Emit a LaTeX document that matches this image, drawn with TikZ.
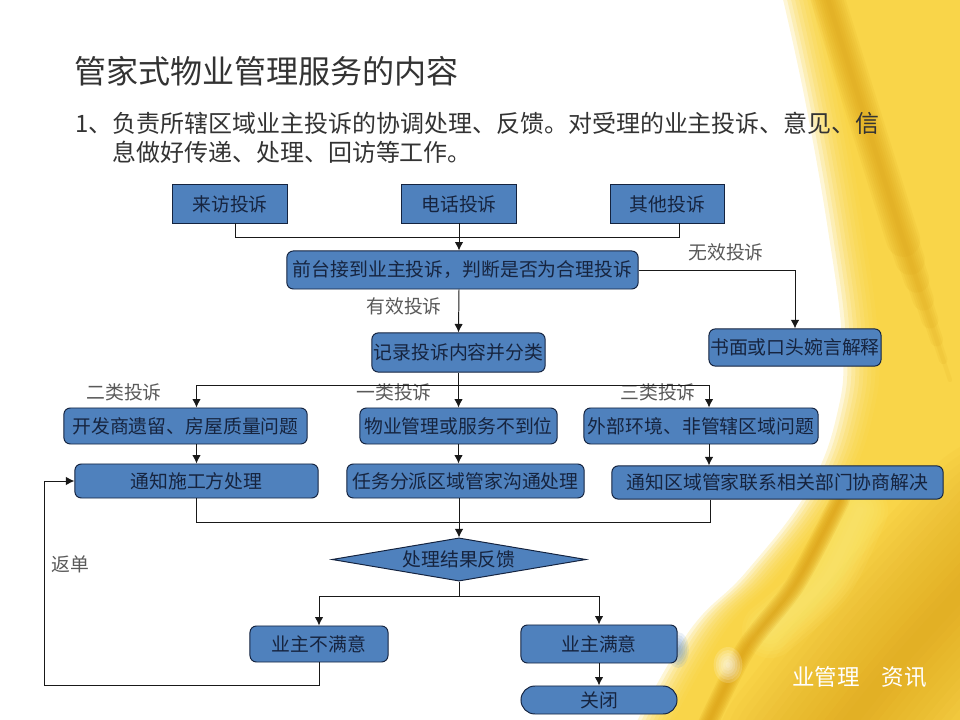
\documentclass[tikz,border=0pt]{standalone}
\usepackage{fontspec}
\setmainfont{Noto Sans CJK SC}
\usepackage{tikz}
\usetikzlibrary{arrows.meta,shapes.geometric,shapes.misc}
\definecolor{boxblue}{HTML}{4F81BD}
\definecolor{boxline}{HTML}{14233F}
\definecolor{boxtext}{HTML}{16243F}
\definecolor{gold}{HTML}{F8D033}
\definecolor{deepgold}{HTML}{D99C10}
\definecolor{palegold}{HTML}{FDEB78}
\newcommand{\edgepts}{(782,-5) (805,100) (828,230) (842,340) (838,410) (808,490) (746,572) (690,630) (635,725)}
\newcommand{\fs}{\fontsize{13.4}{16}\selectfont}

\begin{document}
\begin{tikzpicture}
    [
    x=0.025cm,y=-0.025cm,
    plainbox/.style = {draw=boxline,line width=0.7pt,fill=boxblue,text=boxtext,inner sep=0pt,font=\fs},
    softbox/.style = {plainbox,rounded corners=0.16cm},
    endbox/.style = {plainbox,rounded rectangle},
    choice/.style = {plainbox,diamond,aspect=5.9},
    tag/.style = {text=black!65,inner sep=0pt,font=\fs},
    link/.style = {draw=black!90,line width=0.7pt},
    flow/.style = {link,-{Latex[length=6pt,width=6pt]}},
    veil/.style = {fill=gold,opacity=0.2},
    markfont/.style = {inner sep=0pt,text=white,font=\fontsize{16}{18}\selectfont}
    ]
\useasboundingbox (0,0) rectangle (960,720);

% curtain behind everything
\begin{scope}
\clip (0,0) rectangle (960,720);
\foreach \s in {0,4,...,36} {
    \fill[veil,shift={(\s,0)}] plot [smooth,tension=0.7] coordinates {\edgepts} -- (980,740) -- (980,-5) -- cycle;
}
% darker folds
\foreach \w in {10,20,...,150} {
    \draw[deepgold,opacity=0.055,line width=\w pt,line cap=round] plot [smooth] coordinates {(1010,540) (900,660) (820,760)};
}
\foreach \w/\e in {3/380,6/360,9/340,12/320,15/300,18/280,21/260,24/240} {
    \draw[deepgold,opacity=0.1,line width=\w pt,line cap=round] (825,-10) -- (900,230) -- (900+\e/3-76.67,\e);
}
\foreach \w in {5,10,...,40} {
    \draw[palegold,opacity=0.12,line width=\w pt,line cap=round] plot [smooth] coordinates {(860,510) (825,580) (770,630)};
}
\foreach \w in {2,4,...,14} {
    \draw[deepgold,opacity=0.16,line width=\w pt,line cap=round] plot [smooth] coordinates {(840,500) (795,585) (745,650) (705,730)};
}
% smudges left over the mark
\foreach \r in {3,6,...,18} {
    \fill[white,opacity=0.17] (728,665) ellipse [x radius=0.8*\r,y radius=\r];
    \fill[boxblue,opacity=0.12] (678,650) ellipse [x radius=0.6*\r,y radius=\r];
}
\end{scope}

% heading
\node[anchor=west,inner sep=0pt,text=black!80,font=\fontsize{22.8}{28}\selectfont] (title) at (74,71) {管家式物业管理服务的内容};
\node[anchor=west,inner sep=0pt,text=black!80,font=\fontsize{17.05}{21}\selectfont] (bodyone) at (75,123) {1、负责所辖区域业主投诉的协调处理、反馈。对受理的业主投诉、意见、信};
\node[anchor=west,inner sep=0pt,text=black!80,font=\fontsize{17.05}{21}\selectfont] (bodytwo) at (112,152) {息做好传递、处理、回访等工作。};

% top row
\node[plainbox,minimum width=2.85cm,minimum height=0.95cm] (laifang) at (230,204) {来访投诉};
\node[plainbox,minimum width=2.85cm,minimum height=0.95cm] (dianhua) at (459,204) {电话投诉};
\node[plainbox,minimum width=2.83cm,minimum height=0.95cm] (qita) at (667.5,204) {其他投诉};
\node[softbox,minimum width=8.78cm,minimum height=0.95cm] (qiantai) at (462.5,270) {前台接到业主投诉，判断是否为合理投诉};
\node[softbox,minimum width=4.33cm,minimum height=0.98cm] (jilu) at (458.5,352.5) {记录投诉内容并分类};
\node[softbox,minimum width=4.3cm,minimum height=0.93cm] (shumian) at (795,347.5) {书面或口头婉言解释};

% three sorts
\node[softbox,minimum width=6.08cm,minimum height=0.9cm] (kaifa) at (185.5,426) {开发商遗留、房屋质量问题};
\node[softbox,minimum width=4.93cm,minimum height=0.9cm] (wuye) at (458.5,426) {物业管理或服务不到位};
\node[softbox,minimum width=5.85cm,minimum height=0.9cm] (waibu) at (701,426) {外部环境、非管辖区域问题};
\node[softbox,minimum width=6.08cm,minimum height=0.85cm] (tongzhi) at (196.5,481) {通知施工方处理};
\node[softbox,minimum width=5.93cm,minimum height=0.85cm] (renwu) at (465.5,481) {任务分派区域管家沟通处理};
\node[softbox,minimum width=8.28cm,minimum height=0.83cm] (quyu) at (777.5,482.5) {通知区域管家联系相关部门协商解决};

% result
\node[choice,minimum width=6.35cm,minimum height=1.08cm] (jieguo) at (459,559.5) {处理结果反馈};
\node[softbox,minimum width=3.45cm,minimum height=0.9cm] (bumanyi) at (319,644) {业主不满意};
\node[softbox,minimum width=3.9cm,minimum height=0.95cm] (manyi) at (599,644) {业主满意};
\node[endbox,minimum width=3.9cm,minimum height=0.7cm] (guanbi) at (599,700) {关闭};

% labels on lines
\node[tag] (wuxiao) at (726,252) {无效投诉};
\node[tag] (youxiao) at (404,306) {有效投诉};
\node[tag] (erlei) at (124,392) {二类投诉};
\node[tag] (yilei) at (394,392) {一类投诉};
\node[tag] (sanlei) at (658,392) {三类投诉};
\node[tag] (fandan) at (70,564) {返单};

% corner mark
\node[markfont] (markone) at (826,677) {业管理};
\node[markfont] (marktwo) at (904,677) {资讯};

\coordinate (merge) at (459,237);
\coordinate (sort) at (459,385);
\coordinate (gather) at (459,522);
\coordinate (fork) at (459,596);
\coordinate (back) at (44,685);

\draw[link] ([shift={(5,0)}]laifang.south) |- (merge);
\draw[link] ([shift={(12,0)}]qita.south) |- (merge);
\draw[flow] (dianhua.south) -- (dianhua |- qiantai.north);
\draw[flow] (dianhua |- qiantai.south) -- (jilu.north);
\draw[flow] (qiantai.east) -| (shumian.north);
\draw[flow] (jilu.south) -- (wuye.north);
\draw[flow] (sort) -| (tongzhi.north |- kaifa.north);
\draw[flow] (sort) -| ([shift={(8,0)}]waibu.north);
\draw[flow] (tongzhi.north |- kaifa.south) -- (tongzhi.north);
\draw[flow] (wuye.south) -- (wuye.south |- renwu.north);
\draw[flow] ([shift={(8,0)}]waibu.south) -- ([shift={(8,0)}]waibu.south |- quyu.north);
\draw[link] (tongzhi.south) |- (gather);
\draw[link] ([shift={(-67.5,0)}]quyu.south) |- (gather);
\draw[flow] (jieguo.north |- renwu.south) -- (jieguo.north);
\draw[link] (jieguo.south) -- (fork);
\draw[flow] (fork) -| (bumanyi.north);
\draw[flow] (fork) -| (manyi.north);
\draw[flow] (manyi.south) -- (guanbi.north);
\draw[flow] (bumanyi.south) |- (back) |- (tongzhi.west);

\end{tikzpicture}
\end{document}
